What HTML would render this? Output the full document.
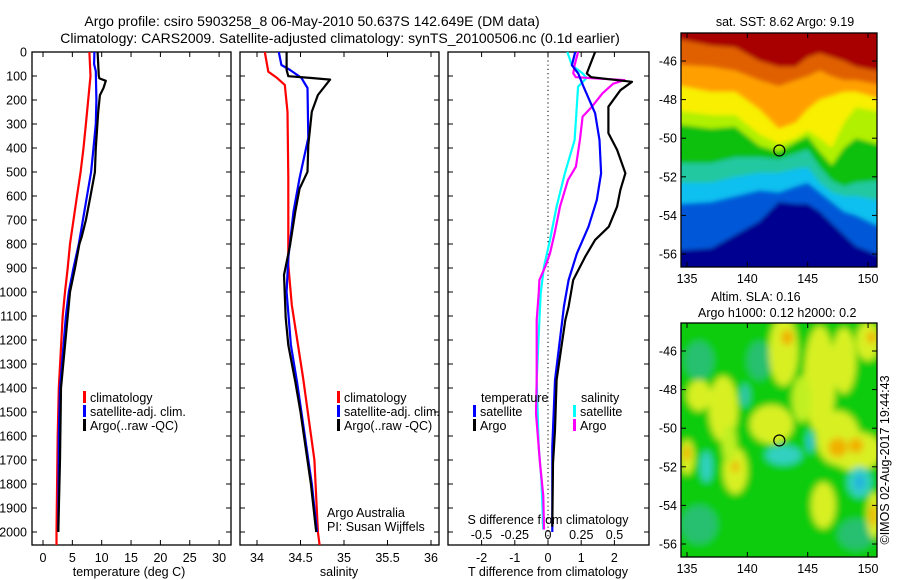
<!DOCTYPE html>
<html><head><meta charset="utf-8">
<style>
html,body{margin:0;padding:0;background:#fff;}
svg{display:block;font-family:"Liberation Sans",sans-serif;}
text{fill:#000;}
</style></head>
<body>
<svg id="fig" width="900" height="580" viewBox="0 0 900 580" xmlns="http://www.w3.org/2000/svg">
<defs><filter id="soft" filterUnits="userSpaceOnUse" x="600" y="-50" width="320" height="700"><feGaussianBlur stdDeviation="2.2"/></filter>
<filter id="soft2" filterUnits="userSpaceOnUse" x="600" y="-50" width="320" height="700"><feGaussianBlur stdDeviation="3.5"/></filter>
<clipPath id="clipMap1"><rect x="681" y="33" width="196" height="234"/></clipPath>
<clipPath id="clipMap2"><rect x="681" y="323" width="196" height="234"/></clipPath></defs>
<text x="312" y="26" font-size="14" text-anchor="middle">Argo profile: csiro 5903258_8 06-May-2010 50.637S 142.649E (DM data)</text>
<text x="340" y="43" font-size="14" text-anchor="middle">Climatology: CARS2009. Satellite-adjusted climatology: synTS_20100506.nc (0.1d earlier)</text>
<g id="p1"></g>
<g id="p2"></g>
<g id="p3"></g>
<g id="m1"></g>
<g id="m2"></g>
<text x="785" y="26" font-size="12.5" text-anchor="middle">sat. SST: 8.62 Argo: 9.19</text>
<text x="711" y="301" font-size="12.5">Altim. SLA: 0.16</text>
<text x="698" y="317" font-size="12.5">Argo h1000: 0.12 h2000: 0.2</text>
<text x="0" y="0" font-size="12.5" text-anchor="middle" transform="translate(889,460) rotate(-90)">©IMOS 02-Aug-2017 19:44:43</text>
</svg>
<script>
// ---- profile data (depth in m) ----
const climTDepth=[0,100,200,300,400,500,600,700,800,900,1000,1100,1400,1600,2000,2054];
const climTVal=[7.9,8.1,7.7,7.3,6.9,6.4,5.8,5.2,4.6,4.2,3.75,3.35,2.7,2.5,2.3,2.3];
const satTDepth=[0,50,80,200,300,400,500,600,700,800,900,1000,1100,1400,1600,2000];
const satTVal=[8.75,8.7,9.0,9.1,9.0,8.6,8.2,7.5,6.8,6.1,5.2,4.4,3.9,2.9,2.7,2.6];
const argoTDepth=[0,100,110,120,150,180,250,400,500,600,700,770,800,900,1000,1400,1700,2000];
const argoTVal=[9.3,9.5,9.6,10.7,10.3,9.7,9.4,9.0,8.85,8.1,7.3,6.6,6.2,5.45,4.6,3.07,2.9,2.6];

const climSDepth=[0,82,108,137,249,525,887,1054,1358,1700,2000,2054];
const climSVal=[34.09,34.13,34.23,34.32,34.35,34.36,34.36,34.40,34.53,34.66,34.70,34.72];
const satSDepth=[0,54,75,108,150,358,525,665,858,1000,1221,1374,1500,1800,2000];
const satSVal=[34.25,34.28,34.38,34.51,34.58,34.59,34.49,34.42,34.36,34.34,34.39,34.46,34.51,34.63,34.69];
const argoSDepth=[0,75,101,108,115,179,249,387,499,569,665,804,929,1012,1108,1221,1374,1500,1800,2000];
const argoSVal=[34.34,34.34,34.36,34.61,34.84,34.70,34.63,34.59,34.58,34.49,34.44,34.38,34.31,34.32,34.33,34.36,34.44,34.50,34.62,34.68];

const dArgoTDepth=[0,89,105,124,159,228,338,408,505,574,644,728,783,853,950,1061,1117,1367,1575,1713,1978];
const dArgoTVal=[1.42,1.17,1.3,2.53,2.18,1.82,1.82,2.08,2.33,2.18,2.08,1.83,1.42,1.12,0.76,0.62,0.52,0.26,0.21,0.15,0.13];
const dSatTDepth=[0,55,89,144,255,367,505,617,728,839,950,1061,1117,1367,1644,2000];
const dSatTVal=[0.82,0.72,0.91,1.07,1.42,1.55,1.6,1.47,1.22,0.87,0.62,0.48,0.43,0.21,0.13,0.13];
const dArgoSDepth=[0,55,89,105,117,132,172,228,269,367,478,533,644,756,839,894,950,1006,1117,1367,1506,1713,1850,1990];
const dArgoSVal=[0.226,0.2,0.19,0.21,0.575,0.49,0.41,0.33,0.26,0.24,0.21,0.15,0.09,0.05,0.015,-0.02,-0.065,-0.07,-0.085,-0.085,-0.09,-0.06,-0.035,-0.03];
const dSatSDepth=[0,55,89,108,144,367,505,644,783,894,1006,1117,1367,1644,1783,1990];
const dSatSVal=[0.145,0.18,0.26,0.29,0.226,0.2,0.127,0.065,0.015,-0.03,-0.055,-0.065,-0.085,-0.07,-0.05,-0.035];

const depthTicks=[0,100,200,300,400,500,600,700,800,900,1000,1100,1200,1300,1400,1500,1600,1700,1800,1900,2000];
const tempTicks=[0,5,10,15,20,25,30];
const salTicks=[34,34.5,35,35.5,36];
const salTickLabels=["34","34.5","35","35.5","36"];
const dTTicks=[-2,-1,0,1,2];
const dSTicks=[-0.5,-0.25,0,0.25,0.5];
const dSTickLabels=["-0.5","-0.25","0","0.25","0.5"];

// map data
const mapLons=[134.5,137,139,141,142.6,144,145,146,147,148,149,150.7];
const sstBandColors=["#0058d8","#10c0f0","#20c8a0","#10c010","#b0f000","#f8f000","#ffa000","#e06000","#a80000"];
const sstBandBottoms=[
 [-55.8,-55.7,-55,-54.3,-53.3,-53.4,-53.4,-53.8,-54.4,-55,-55.6,-56],
 [-53.4,-53.3,-53,-52.7,-52.8,-52.5,-52.3,-52.8,-53.3,-53.8,-54,-54.5],
 [-52.3,-52.3,-52,-51.8,-51.8,-51.6,-51.5,-52.3,-52.8,-53,-53,-53.2],
 [-51.3,-51.3,-51,-51,-51.1,-50.8,-50.6,-51.5,-52.2,-52.5,-52.3,-52.2],
 [-49.3,-49.5,-49.4,-50.4,-50.7,-50.2,-49.9,-50.7,-51.4,-50.5,-50,-50.3],
 [-48.6,-48.8,-48.8,-49.8,-50.3,-50,-49.6,-50,-50.5,-49.2,-48.4,-48.6],
 [-47.3,-47.6,-47.6,-48.5,-49.5,-49.2,-48.5,-48,-47.8,-47.6,-47.6,-47.9],
 [-46.2,-46.3,-46.5,-47,-47.3,-47,-46.8,-46.5,-46.8,-47,-47,-47.2],
 [-44.9,-45.2,-45.3,-46,-46.3,-46.3,-45.8,-45.6,-45.8,-46,-46.3,-46.5]
];
const slaBlobLon=[136,141,136,149,143,146,147.5,149,138,139,136,135,146.3,150,150.5,148,142,143,145.2,136.6,139.8,149.3,143.3,147.5,149,150.4,150.3,135,139,149.3,145.2,144.5,138.5];
const slaBlobLat=[-46.5,-46.5,-55,-55.5,-46,-47.5,-50.5,-51.2,-49,-52.2,-48.3,-51.5,-54,-45.5,-54.5,-46.5,-49.8,-51.4,-50.7,-52,-48.3,-52.8,-45.3,-51,-50.9,-54.5,-45.3,-51.3,-52,-52.8,-50.8,-48.5,-50.8];
const slaBlobRx=[1.2,1,1.5,1.5,1.2,1.3,1.8,2.2,1.2,1,1,0.6,1,1,0.6,1,1.8,1.5,0.3,0.5,0.4,1,0.5,0.8,0.6,0.3,0.4,0.3,0.3,0.4,0.15,0.8,0.6];
const slaBlobRy=[1,1,1,0.8,1.8,2.8,1.4,1,1.7,1.2,0.8,0.9,1.2,1,1.2,1.7,1,0.5,0.6,0.8,0.6,0.8,0.4,0.5,0.4,0.6,0.3,0.4,0.3,0.4,0.3,1.2,1];
const slaBlobColor=["#28c070","#28c070","#28c070","#28c070","#d8f020","#d8f020","#d8f020","#d8f020","#d8f020","#d8f020","#d8f020","#d8f020","#d8f020","#d8f020","#d8f020","#d8f020","#d8f020","#30d0c0","#30d0c0","#30d0c0","#30c8a8","#30d0c0","#f0b000","#f0b000","#f0b000","#f0b000","#f0b000","#f0b000","#f0b000","#20b0e0","#20b0e0","#c0f020","#c0f020"];
const argoLon=142.649, argoLat=-50.637;
const mapLonTicks=[135,140,145,150];
const mapLatTicks=[-46,-48,-50,-52,-54,-56];

const NS="http://www.w3.org/2000/svg";
function mk(parent,tag,attrs){const e=document.createElementNS(NS,tag);for(const k in attrs)e.setAttribute(k,attrs[k]);parent.appendChild(e);return e;}
const Y0=52,Y1=545;
const yD=d=>Y0+d*0.24;
const xT=t=>43+t*5.87;
const xS=s=>257+(s-34)*87;
const xDT=t=>548+t*33.2;
const xDS=s=>548+s*133;

function frame(g,x0,x1,name){
  const r=mk(g,'rect',{x:x0,y:Y0,width:x1-x0,height:Y1-Y0,fill:'none',stroke:'#000','stroke-width':1.3});
  
  
  depthTicks.forEach(d=>{
    const y=yD(d);
    const a=mk(g,'line',{x1:x0,x2:x0+5,y1:y,y2:y,stroke:'#000'});
    
    
    const b=mk(g,'line',{x1:x1-5,x2:x1,y1:y,y2:y,stroke:'#000'});
    
    
  });
}
function xticks(g,vals,labels,fx,name){
  vals.forEach((v,i)=>{
    const x=fx(v);
    const a=mk(g,'line',{x1:x,x2:x,y1:Y1,y2:Y1-5,stroke:'#000'});
    
    
    const b=mk(g,'line',{x1:x,x2:x,y1:Y0,y2:Y0+5,stroke:'#000'});
    
    
    const t=mk(g,'text',{x:x,y:562,'font-size':12.5,'text-anchor':'middle'});
    t.textContent=labels?labels[i]:String(v);
    
    
  });
}
function line(g,depths,vals,fx,color,name,w){
  const pts=depths.map((d,i)=>fx(vals[i]).toFixed(1)+','+yD(d).toFixed(1)).join(' ');
  const p=mk(g,'polyline',{points:pts,fill:'none',stroke:color,'stroke-width':w||2.2,'stroke-linejoin':'round'});
  
  
}
function label(g,x,y,txt,name,anchor,size){
  const t=mk(g,'text',{x:x,y:y,'font-size':size||12.5,'text-anchor':anchor||'start'});
  t.textContent=txt;
  
  
  return t;
}
function legendEntry(g,x,y,color,txt){
  const r=mk(g,'rect',{x:x,y:y-11,width:3,height:12,fill:color});
  
  
  label(g,x+7,y,txt,'legend-entry');
}

// Panel 1
const p1=document.getElementById('p1');
frame(p1,32,231,'temperature-panel');
depthTicks.forEach(d=>label(p1,27,yD(d)+4.5,String(d),'depth-tick-label','end'));
xticks(p1,tempTicks,null,xT,'temperature');
label(p1,129,576,'temperature (deg C)','temperature-axis-title','middle');
line(p1,climTDepth,climTVal,xT,'#ff0000','climatology-temperature-line');
line(p1,satTDepth,satTVal,xT,'#0000ff','satellite-temperature-line');
line(p1,argoTDepth,argoTVal,xT,'#000000','argo-temperature-line');
legendEntry(p1,83,402,'#ff0000','climatology');
legendEntry(p1,83,416,'#0000ff','satellite-adj. clim.');
legendEntry(p1,83,430,'#000000','Argo(..raw -QC)');

// Panel 2
const p2=document.getElementById('p2');
frame(p2,240,439,'salinity-panel');
xticks(p2,salTicks,salTickLabels,xS,'salinity');
label(p2,339,576,'salinity','salinity-axis-title','middle');
line(p2,climSDepth,climSVal,xS,'#ff0000','climatology-salinity-line');
line(p2,satSDepth,satSVal,xS,'#0000ff','satellite-salinity-line');
line(p2,argoSDepth,argoSVal,xS,'#000000','argo-salinity-line');
legendEntry(p2,337,402,'#ff0000','climatology');
legendEntry(p2,337,416,'#0000ff','satellite-adj. clim.');
legendEntry(p2,337,430,'#000000','Argo(..raw -QC)');
label(p2,327,517,'Argo Australia','credit-argo-australia');
label(p2,327,531,'PI: Susan Wijffels','credit-pi');

// Panel 3
const p3=document.getElementById('p3');
frame(p3,448,649,'difference-panel');
const zl=mk(p3,'line',{x1:548,x2:548,y1:Y0,y2:Y1,stroke:'#000','stroke-dasharray':'1.2,3'});


xticks(p3,dTTicks,null,xDT,'t-difference');
dSTicks.forEach((v,i)=>label(p3,xDS(v),539,dSTickLabels[i],'s-difference-tick-label','middle'));
label(p3,548,524,'S difference from climatology','s-difference-axis-title','middle');
label(p3,548,576,'T difference from climatology','t-difference-axis-title','middle');
line(p3,dSatSDepth,dSatSVal,xDS,'#00ffff','satellite-salinity-difference-line');
line(p3,dArgoSDepth,dArgoSVal,xDS,'#ff00ff','argo-salinity-difference-line');
line(p3,dSatTDepth,dSatTVal,xDT,'#0000ff','satellite-temperature-difference-line');
line(p3,dArgoTDepth,dArgoTVal,xDT,'#000000','argo-temperature-difference-line');
label(p3,481,402,'temperature','legend-temperature-heading');
label(p3,581,402,'salinity','legend-salinity-heading');
legendEntry(p3,473,416,'#0000ff','satellite');
legendEntry(p3,473,430,'#000000','Argo');
legendEntry(p3,573,416,'#00ffff','satellite');
legendEntry(p3,573,430,'#ff00ff','Argo');

// Maps
const mx=lon=>687+(lon-135)*12.07;
function map(g,oy,clip,name,fillFn){
  const my=lat=>oy+61+(-46-lat)*19.3;
  const inner=mk(g,'g',{'clip-path':'url(#'+clip+')'});
  
  
  fillFn(inner,my,oy);
  const r=mk(g,'rect',{x:681,y:oy+33,width:196,height:234,fill:'none',stroke:'#000','stroke-width':1.3});
  
  
  mapLonTicks.forEach(l=>{
    const x=mx(l);
    const a=mk(g,'line',{x1:x,x2:x,y1:oy+267,y2:oy+262,stroke:'#000'});
    
    
    const b=mk(g,'line',{x1:x,x2:x,y1:oy+33,y2:oy+38,stroke:'#000'});
    
    
    label(g,x,oy+283,String(l),'lon-tick-label','middle');
  });
  mapLatTicks.forEach(l=>{
    const y=my(l);
    const a=mk(g,'line',{x1:681,x2:686,y1:y,y2:y,stroke:'#000'});
    
    
    const b=mk(g,'line',{x1:872,x2:877,y1:y,y2:y,stroke:'#000'});
    
    
    label(g,677,y+4.5,String(l),'lat-tick-label','end');
  });
  const c=mk(g,'circle',{cx:mx(argoLon),cy:my(argoLat),r:5.5,fill:'none',stroke:'#000','stroke-width':1.2});
  
  
}
map(document.getElementById('m1'),0,'clipMap1','sst-map',(g,my,oy)=>{
  const fg=mk(g,'g',{filter:'url(#soft)'});
  
  
  const under=mk(fg,'rect',{x:660,y:oy-20,width:240,height:320,fill:'#000090'});
  
  
  sstBandBottoms.forEach((b,k)=>{
    const top=oy-30;
    let pts=mx(132).toFixed(1)+','+my(b[0]).toFixed(1)+' '+mx(132).toFixed(1)+','+top+' ';
    pts+=mx(153).toFixed(1)+','+top+' '+mx(153).toFixed(1)+','+my(b[b.length-1]).toFixed(1)+' ';
    pts+=mapLons.slice().reverse().map((l,j)=>{const i=mapLons.length-1-j;return mx(l).toFixed(1)+','+my(b[i]).toFixed(1);}).join(' ');
    const p=mk(fg,'polygon',{points:pts,fill:sstBandColors[k]});
    
    
  });
});
map(document.getElementById('m2'),290,'clipMap2','sla-map',(g,my,oy)=>{
  const fg=mk(g,'g',{filter:'url(#soft2)'});
  
  
  const bg=mk(fg,'rect',{x:660,y:oy,width:240,height:300,fill:'#10cc10'});
  
  
  slaBlobLon.forEach((l,i)=>{
    const e=mk(fg,'ellipse',{cx:mx(l),cy:my(slaBlobLat[i]),rx:slaBlobRx[i]*12.07,ry:slaBlobRy[i]*19.3,fill:slaBlobColor[i]});
    
    
  });
});
</script>
</body></html>
